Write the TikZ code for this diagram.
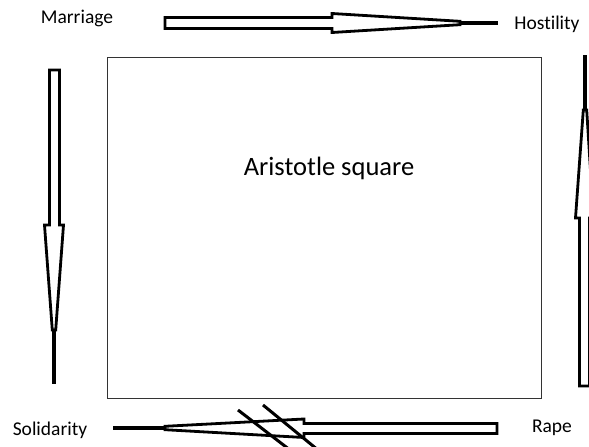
\documentclass[tikz,border=0pt]{standalone}
\usepackage{fontspec}
\setmainfont[Ligatures=NoCommon]{Carlito}
\begin{document}
\begin{tikzpicture}[x=1pt,y=-1pt,
  arrowshape/.style={draw=black,line width=2.8pt,fill=white,line join=miter,miter limit=3},
  tail/.style={draw=black,line width=4pt},
  lbl/.style={font=\fontsize{19.5}{22}\selectfont,inner sep=0pt},
  slash/.style={draw=black,line width=3pt}]
\useasboundingbox (0,0) rectangle (589,447);
\begin{scope}
\clip (0,0) rectangle (589,447);
% box
\node[draw=black!80,line width=1.3pt,minimum width=434pt,minimum height=341pt,inner sep=0pt,anchor=north west] (box) at (107,57) {};
\node[font=\fontsize{26.5}{30}\selectfont] (title) at (329,168) {Aristotle square};
% labels
\node[lbl] (marriage) at (77,18) {Marriage};
\node[lbl] (hostility) at (547,24) {Hostility};
\node[lbl] (solidarity) at (50,430) {Solidarity};
\node[lbl] (rape) at (552,428) {Rape};
% top arrow (Marriage -> Hostility)
\coordinate (ttip) at (498,23);
\draw[tail] (455,23) -- (ttip);
\path[arrowshape] (165,17.5) -- (332,17.5) -- (332,13.5) -- (460,21.3) -- (460,24.7) -- (332,32.5) -- (332,28.5) -- (165,28.5) -- cycle;
% left arrow (Marriage -> Solidarity)
\coordinate (ltip) at (54,384);
\draw[tail] (54,325) -- (ltip);
\path[arrowshape] (49.5,70) -- (59.5,70) -- (59.5,225) -- (63.5,225) -- (55.7,330) -- (52.3,330) -- (44.5,225) -- (49.5,225) -- cycle;
% right arrow (Rape -> Hostility)
\coordinate (rtip) at (585,55);
\draw[tail] (585,115) -- (rtip);
\path[arrowshape] (579.5,386) -- (589.5,386) -- (589.5,218) -- (593.5,218) -- (586.7,110) -- (583.3,110) -- (575.5,218) -- (579.5,218) -- cycle;
% bottom arrow (Rape -> Solidarity)
\coordinate (btip) at (113,428);
\draw[tail] (170,428) -- (btip);
\path[arrowshape] (497,423.5) -- (304,423.5) -- (304,419) -- (165,426.3) -- (165,429.7) -- (304,437.5) -- (304,433.5) -- (497,433.5) -- cycle;
% slashes
\coordinate (s1a) at (238,410); \coordinate (s1b) at (290,450);
\coordinate (s2a) at (263,405); \coordinate (s2b) at (318,450);
\draw[slash] (s1a) -- (s1b);
\draw[slash] (s2a) -- (s2b);
\end{scope}
\end{tikzpicture}
\end{document}
